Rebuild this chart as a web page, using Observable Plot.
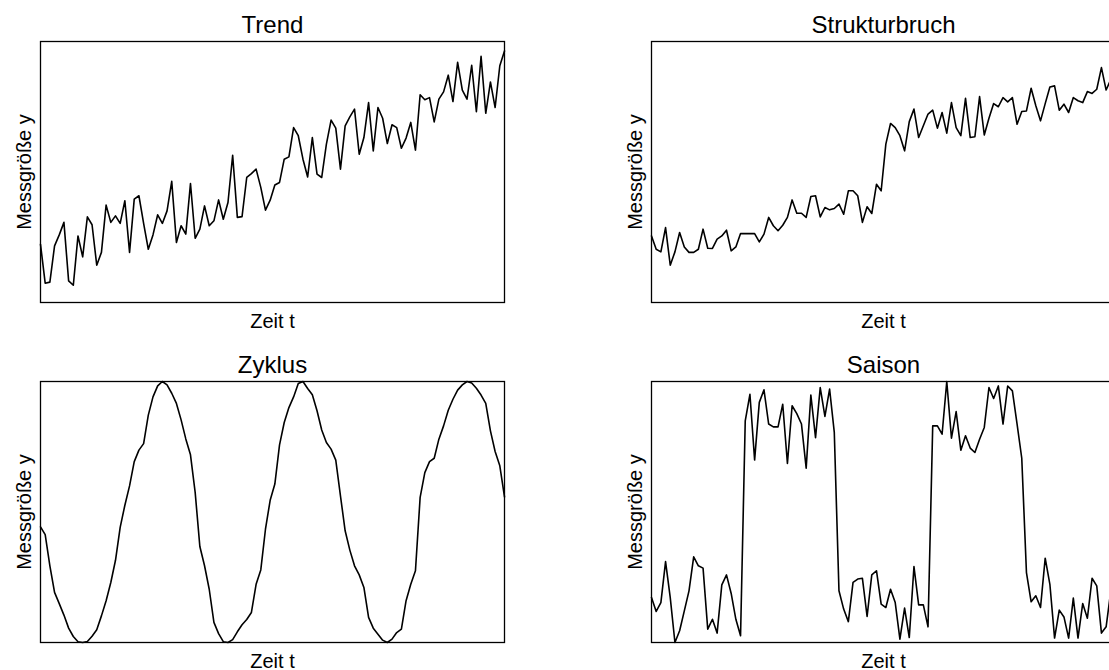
<!DOCTYPE html>
<html>
<head>
<meta charset="utf-8">
<script src="https://cdn.jsdelivr.net/npm/d3@7"></script>
<script src="https://cdn.jsdelivr.net/npm/@observablehq/plot@0.6"></script>
<style>
  html, body { margin: 0; padding: 0; background: white; }
  #page { position: relative; width: 1109px; height: 670px; overflow: hidden; background: white; }
  .panel { position: absolute; width: 514px; height: 340px; }
  .panel svg { max-width: none !important; width: 514px; height: 340px; }
</style>
</head>
<body>
<div id="page"></div>
<script>
// Panel titles and axis labels
const panelTitles = ["Trend", "Strukturbruch", "Zyklus", "Saison"];
const xLabel = "Zeit t";
const yLabel = "Messgröße y";

// Series values (relative units, 0 = bottom, 100 = top of frame)
const trendValues = [22.3,7.4,7.8,21.7,25.9,30.7,8.3,6.6,25.5,17.5,
  32.8,29.8,14.3,19.2,37.3,30.7,33.2,30.3,39.0,19.2,
  39.6,40.9,30.3,20.4,25.9,33.6,30.3,35.1,46.4,23.0,
  29.4,26.2,45.6,24.6,28.1,37.0,29.4,31.3,39.3,31.9,
  38.3,56.4,32.6,32.9,47.9,49.4,51.1,
  44.1,35.4,39.2,45.0,46.0,54.9,55.8,67.0,63.9,54.9,
  48.1,63.2,49.2,47.9,60.7,69.9,66.8,51.1,67.7,71.1,
  74.1,56.8,63.2,76.6,58.1,74.7,70.6,60.9,68.1,67.0,
  59.1,63.0,69.0,58.4,79.6,77.7,78.5,69.2,77.9,80.7,
  87.1,77.0,92.0,81.4,77.9,90.9,73.1,94.3,72.5,84.5,
  74.7,90.7,96.4];

const strukturbruchValues = [25.5,20.4,19.4,28.7,14.3,19.4,26.8,21.3,19.2,19.2,
  20.4,28.1,20.8,20.7,24.3,25.5,27.7,19.8,21.3,26.4,
  26.4,26.4,26.4,23.2,26.2,32.6,29.4,27.5,29.6,32.6,
  39.3,34.2,34.2,32.6,40.6,40.9,32.8,36.4,35.5,36.0,
  37.7,33.8,42.8,42.8,40.9,
  30.7,36.7,34.1,45.3,42.8,60.7,68.6,67.0,63.9,58.1,
  69.3,74.1,63.2,67.7,72.2,73.7,66.8,72.8,64.9,76.6,
  67.0,63.9,78.2,63.2,63.5,78.9,64.2,70.6,76.2,75.0,
  78.5,76.9,78.5,68.3,73.2,73.4,82.1,75.4,69.6,76.2,
  82.6,83.0,73.7,76.0,72.8,78.5,77.3,76.6,80.8,80.1,
  81.7,90.0,81.4,85.5,83.0];

const zyklusValues = [44.3,41.3,29.4,19.2,14.9,10.5,5.5,2.3,0.3,0,
  0.4,2.4,4.9,10.2,16.0,23.0,31.5,44.1,52.6,60.0,
  69.3,73.7,76.2,87.1,94.1,98.3,100,98.7,95.5,91.6,
  85.3,78.0,71.9,57.5,36.8,29.4,20.4,7.7,3.4,0.3,
  0,1.1,4.1,6.8,8.8,11.5,22.3,27.8,43.4,54.5,
  60.7,75.7,84.3,90.0,94.1,99.2,100,97.3,94.9,88.8,
  81.4,76.6,74.1,69.9,56.2,42.8,35.4,29.4,25.9,21.1,
  9.6,5.5,3.2,0.9,0,1.3,3.8,5.1,16.0,22.3,
  27.5,55.6,65.1,69.3,70.6,77.9,83.0,89.0,93.2,96.7,
  98.7,100,99.4,97.4,94.8,91.6,81.1,73.2,67.7,55.8];

const saisonValues = [17.2,11.9,15.3,31.0,17.2,0,4.5,12.1,19.8,32.8,
  29.4,28.5,5.1,8.9,3.6,22.1,25.9,18.8,8.9,2.6,
  84.9,95.1,69.9,92.0,96.8,83.7,82.6,82.6,91.3,68.6,
  90.7,87.7,83.7,66.8,94.8,78.5,97.7,86.6,97.1,80.5,
  19.8,12.8,8.0,23.0,24.3,
  24.6,10.0,25.9,27.5,14.7,13.4,20.4,15.3,1.3,13.2,
  1.9,29.1,14.4,14.4,6.0,83.0,83.0,79.8,100,78.3,
  88.5,73.7,79.2,74.5,72.8,77.9,82.4,97.7,93.5,98.3,
  83.7,98.3,96.4,83.7,70.6,26.8,15.6,17.9,13.4,32.3,
  22.3,1.7,12.4,9.8,1.7,17.0,1.7,14.9,9.3,24.6,
  21.7,3.6,6.0,19.8,24.0];

const seriesList = [trendValues, strukturbruchValues, zyklusValues, saisonValues];
const panelPositions = [[0, 0], [611, 0], [0, 340], [611, 340]];

const font = "'Liberation Sans', Arial, Helvetica, sans-serif";
const page = document.getElementById("page");

seriesList.forEach((values, i) => {
  const chart = Plot.plot({
    width: 514,
    height: 340,
    marginLeft: 40,
    marginRight: 10,
    marginTop: 41,
    marginBottom: 38,
    x: {domain: [0, values.length - 1], axis: null},
    y: {domain: [0, 100], axis: null},
    style: {fontFamily: font, background: "white", overflow: "visible", color: "black", maxWidth: "none"},
    marks: [
      Plot.lineY(values, {x: (d, j) => j, y: d => d, stroke: "black", strokeWidth: 1.6}),
      Plot.frame({stroke: "black", strokeWidth: 1.3}),
      Plot.text([panelTitles[i]], {text: d => d, frameAnchor: "top", textAnchor: "middle", lineAnchor: "bottom", dy: -9, fontSize: 24, fill: "black"}),
      Plot.text([xLabel], {text: d => d, frameAnchor: "bottom", textAnchor: "middle", lineAnchor: "bottom", dy: 25, fontSize: 20, fill: "black"}),
      Plot.text([yLabel], {text: d => d, frameAnchor: "left", textAnchor: "middle", lineAnchor: "bottom", rotate: -90, dx: -10, fontSize: 20, fill: "black"})
    ]
  });
  const div = document.createElement("div");
  div.className = "panel";
  div.style.left = panelPositions[i][0] + "px";
  div.style.top = panelPositions[i][1] + "px";
  div.appendChild(chart);
  page.appendChild(div);
});
</script>
</body>
</html>
